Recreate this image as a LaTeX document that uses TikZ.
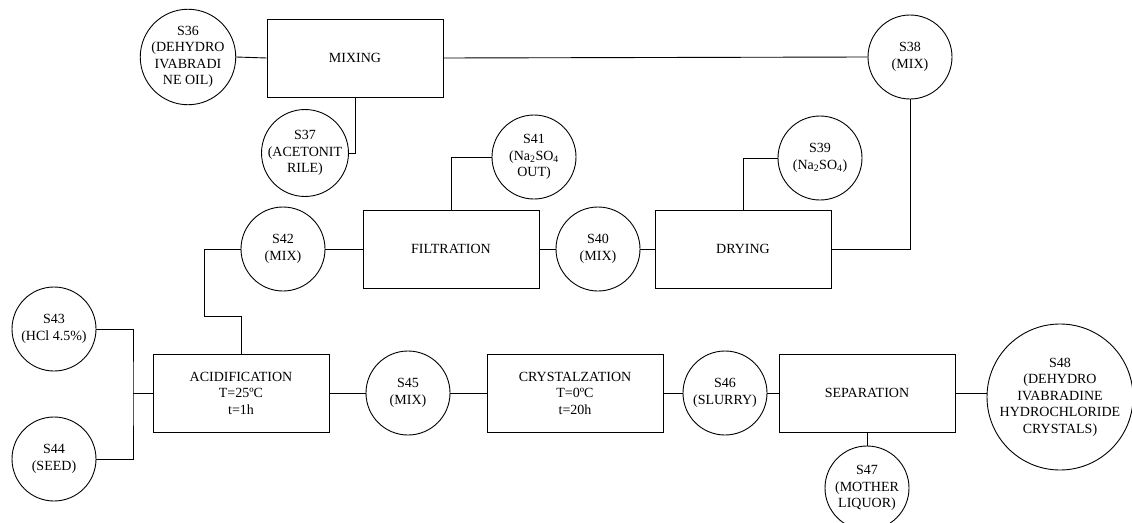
\documentclass[tikz,border=0pt]{standalone}
\usepackage{fontspec}
\setmainfont{Liberation Serif}
\usepackage{tikz}
\usetikzlibrary{positioning,calc}

\tikzset{
  stream/.style={draw,circle,inner sep=0pt,minimum size=84pt,align=center},
  unitbox/.style={draw,rectangle,inner sep=0pt,minimum width=176pt,minimum height=78pt,align=center},
  pipe/.style={draw,line width=0.9pt}
}

\begin{document}
\begin{tikzpicture}[x=1pt,y=-1pt,line width=0.9pt,
    every node/.style={font=\fontsize{14}{16.5}\selectfont}]
  \useasboundingbox (0,0) rectangle (1132,522);
  % mixing line
  \node[stream] (s36) at (188,57) {S36\\(DEHYDRO\\IVABRADI\\NE OIL)};
  \node[unitbox] (mixing) at (355,58) {MIXING};
  \node[stream] (s37) at (305,153) {S37\\(ACETONIT\\RILE)};
  \node[stream] (s38) at (910,57) {S38\\(MIX)};
  % drying and filtration
  \node[unitbox] (drying) at (743,249) {DRYING};
  \node[stream] (s39) at (820,158) {S39\\(Na\textsubscript{2}SO\textsubscript{4})};
  \node[stream] (s40) at (598,249) {S40\\(MIX)};
  \node[unitbox] (filtration) at (451,249) {FILTRATION};
  \node[stream] (s41) at (534,157) {S41\\(Na\textsubscript{2}SO\textsubscript{4}\\OUT)};
  \node[stream] (s42) at (283,249) {S42\\(MIX)};
  % acidification, crystallization and separation
  \node[stream] (s43) at (54,329) {S43\\(HCl 4.5\%)};
  \node[stream] (s44) at (54,459) {S44\\(SEED)};
  \node[unitbox] (acid) at (241,393) {ACIDIFICATION\\T=25ºC\\t=1h};
  \node[stream] (s45) at (408,393) {S45\\(MIX)};
  \node[unitbox] (cryst) at (575,393) {CRYSTALZATION\\T=0ºC\\t=20h};
  \node[stream] (s46) at (725,393) {S46\\(SLURRY)};
  \node[unitbox] (separation) at (867,393) {SEPARATION};
  \node[stream] (s47) at (867,488) {S47\\(MOTHER\\LIQUOR)};
  \node[stream,minimum size=146pt] (s48) at (1060,397) {S48\\(DEHYDRO\\IVABRADINE\\HYDROCHLORIDE\\CRYSTALS)};
  \coordinate (kink) at (204,316);
  \coordinate (join) at (133,393);

  % connectors
  \draw (s36.east) -- (mixing.west);
  \draw (mixing.east) -- (s38.west);
  \draw (s37.east) -| (mixing.south);
  \draw (s38.south) |- (drying.east);
  \draw (s39.west) -| (drying.north);
  \draw (s40.east) -- (drying.west);
  \draw (filtration.east) -- (s40.west);
  \draw (s41.west) -| (filtration.north);
  \draw (s42.east) -- (filtration.west);
  \draw (s42.west) -| (kink) -| (acid.north);
  \draw (s43.east) -| (join) |- (s44.east);
  \draw (join) -- (acid.west);
  \draw (acid.east) -- (s45.west);
  \draw (s45.east) -- (cryst.west);
  \draw (cryst.east) -- (s46.west);
  \draw (s46.east) -- (separation.west);
  \draw (separation.east) -- (separation.east -| s48.west);
  \draw (separation.south) -- (s47.north);
\end{tikzpicture}
\end{document}
